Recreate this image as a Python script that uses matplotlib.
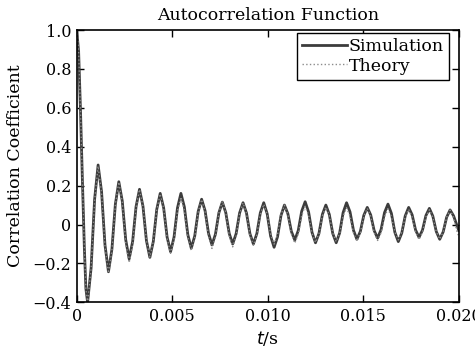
import numpy as np
import matplotlib.pyplot as plt

# lag times in ms, read at the extrema and between them
tau_ms = [0, 0.10, 0.20, 0.30, 0.40, 0.48, 0.57, 0.753, 0.937,
          1.120, 1.301, 1.481, 1.662, 1.843, 2.023, 2.204, 2.385, 2.565,
          2.746, 2.927, 3.107, 3.288, 3.469, 3.649, 3.830, 4.011, 4.191,
          4.372, 4.553, 4.733, 4.914, 5.095, 5.275, 5.456, 5.637, 5.817,
          5.998, 6.179, 6.359, 6.540, 6.721, 6.901, 7.082, 7.263, 7.443,
          7.624, 7.805, 7.985, 8.166, 8.347, 8.527, 8.708, 8.889, 9.069,
          9.250, 9.431, 9.611, 9.792, 9.973, 10.153, 10.334, 10.515, 10.695,
          10.876, 11.057, 11.237, 11.418, 11.599, 11.779, 11.960, 12.141, 12.321,
          12.502, 12.683, 12.863, 13.044, 13.225, 13.405, 13.586, 13.767, 13.947,
          14.128, 14.309, 14.489, 14.670, 14.851, 15.031, 15.212, 15.393, 15.573,
          15.754, 15.935, 16.115, 16.296, 16.477, 16.657, 16.838, 17.019, 17.199,
          17.380, 17.561, 17.741, 17.922, 18.103, 18.283, 18.464, 18.645, 18.825,
          19.006, 19.187, 19.367, 19.548, 19.729, 19.910, 20.000]

simulation = [1.0, 0.89, 0.58, 0.22, -0.12, -0.33, -0.40, -0.224, 0.130,
              0.306, 0.169, -0.106, -0.243, -0.127, 0.104, 0.220, 0.121, -0.078,
              -0.177, -0.088, 0.092, 0.181, 0.094, -0.082, -0.169, -0.087, 0.078,
              0.160, 0.085, -0.065, -0.140, -0.065, 0.085, 0.160, 0.090, -0.052,
              -0.122, -0.059, 0.067, 0.130, 0.071, -0.046, -0.105, -0.050, 0.060,
              0.115, 0.061, -0.046, -0.100, -0.047, 0.059, 0.112, 0.059, -0.047,
              -0.100, -0.047, 0.059, 0.112, 0.055, -0.060, -0.117, -0.063, 0.046,
              0.100, 0.055, -0.035, -0.080, -0.031, 0.068, 0.117, 0.064, -0.041,
              -0.094, -0.046, 0.052, 0.100, 0.052, -0.046, -0.094, -0.043, 0.061,
              0.112, 0.065, -0.029, -0.076, -0.035, 0.047, 0.088, 0.049, -0.031,
              -0.070, -0.026, 0.061, 0.105, 0.057, -0.040, -0.088, -0.044, 0.044,
              0.088, 0.050, -0.028, -0.066, -0.029, 0.046, 0.083, 0.043, -0.036,
              -0.076, -0.038, 0.037, 0.075, 0.045, -0.005, -0.030]

theory = [1.0, 0.89, 0.58, 0.22, -0.12, -0.33, -0.403, -0.227, 0.124,
          0.300, 0.163, -0.113, -0.250, -0.133, 0.101, 0.218, 0.115, -0.093,
          -0.196, -0.102, 0.086, 0.180, 0.093, -0.080, -0.167, -0.086, 0.076,
          0.157, 0.081, -0.072, -0.148, -0.076, 0.069, 0.141, 0.072, -0.065,
          -0.134, -0.069, 0.063, 0.128, 0.065, -0.060, -0.123, -0.063, 0.059,
          0.119, 0.061, -0.057, -0.115, -0.059, 0.055, 0.111, 0.057, -0.053,
          -0.107, -0.054, 0.051, 0.104, 0.053, -0.050, -0.101, -0.051, 0.049,
          0.099, 0.050, -0.047, -0.096, -0.049, 0.047, 0.094, 0.048, -0.046,
          -0.092, -0.047, 0.045, 0.090, 0.046, -0.044, -0.088, -0.045, 0.043,
          0.086, 0.043, -0.042, -0.085, -0.043, 0.041, 0.083, 0.042, -0.041,
          -0.082, -0.042, 0.040, 0.080, 0.040, -0.039, -0.079, -0.040, 0.039,
          0.078, 0.039, -0.038, -0.077, -0.039, 0.038, 0.076, 0.038, -0.037,
          -0.075, -0.038, 0.037, 0.074, 0.037, -0.036, -0.060]

xticks = [0, 0.005, 0.010, 0.015, 0.020]
xtick_labels = ['0', '0.005', '0.010', '0.015', '0.020']
yticks = [-0.4, -0.2, 0, 0.2, 0.4, 0.6, 0.8, 1.0]
ytick_labels = ['\u22120.4', '\u22120.2', '0', '0.2', '0.4', '0.6', '0.8', '1.0']

plt.rcParams['font.family'] = 'DejaVu Serif'
plt.rcParams['font.size'] = 12.5

tau = np.array(tau_ms) / 1000.0

fig = plt.figure(figsize=(4.75, 3.53), dpi=100)
ax = fig.add_axes([0.1615, 0.1436, 0.8042, 0.7714])

ax.plot(tau, simulation, color='#3c3c3c', lw=2.0, label='Simulation')
ax.plot(tau, theory, color='#8c8c8c', lw=1.0, ls=':', label='Theory')

ax.set_xlim(0, 0.02)
ax.set_ylim(-0.4, 1.0)
ax.set_xticks(xticks)
ax.set_xticklabels(xtick_labels)
ax.set_yticks(yticks)
ax.set_yticklabels(ytick_labels)
ax.tick_params(direction='in', top=True, right=True, length=5, width=1,
               pad=4, labelsize=11.5)
for s in ax.spines.values():
    s.set_linewidth(1.2)

ax.set_title('Autocorrelation Function', fontsize=12.5, pad=7)
ax.set_xlabel('$t$/s', labelpad=3)
ax.set_ylabel('Correlation Coefficient', labelpad=6)

leg = ax.legend(loc='upper right', bbox_to_anchor=(0.975, 0.99),
                fancybox=False, edgecolor='black', framealpha=1,
                borderpad=0.3, labelspacing=0.15, handlelength=2.6,
                handletextpad=0.1, borderaxespad=0)
leg.get_frame().set_linewidth(1.0)

fig.savefig('out.png', dpi=100)
